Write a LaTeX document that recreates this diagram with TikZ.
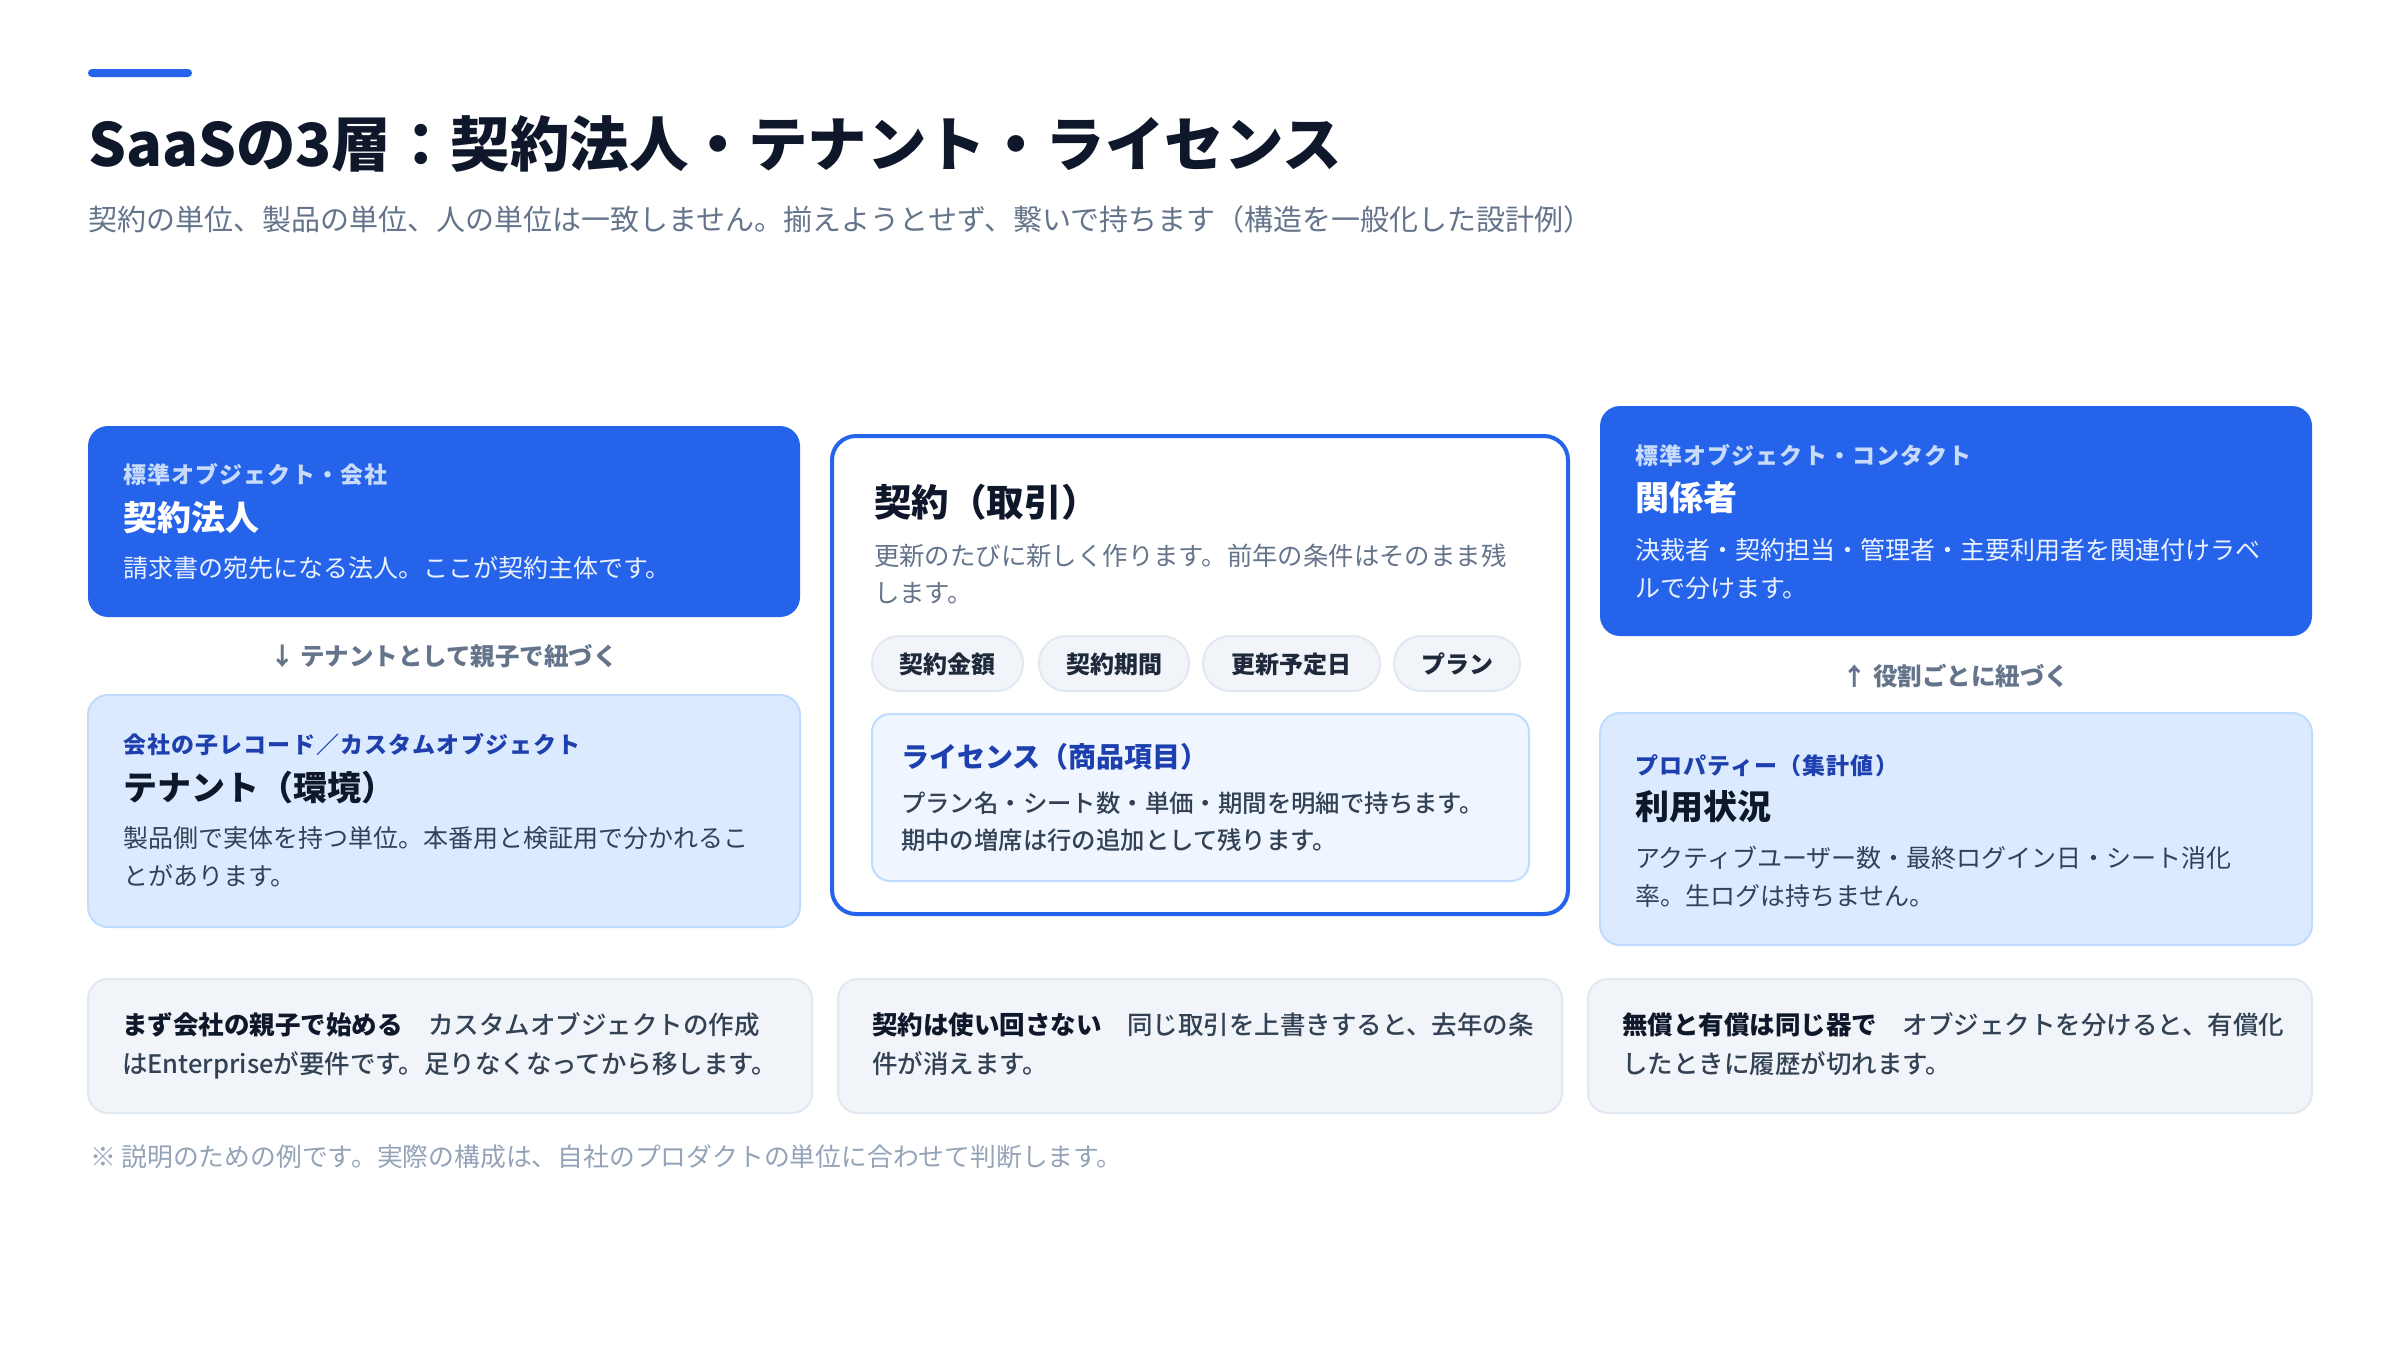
\documentclass[tikz,border=0pt]{standalone}
\usepackage{fontspec}
\setmainfont{Noto Sans CJK JP}
\newfontfamily\medfont{Noto Sans CJK JP Medium}
\definecolor{brand}{HTML}{2563EB}
\definecolor{ink}{HTML}{0F172A}
\definecolor{slate}{HTML}{334155}
\definecolor{muted}{HTML}{64748B}
\definecolor{faint}{HTML}{94A3B8}
\definecolor{lightfill}{HTML}{DBEAFE}
\definecolor{lightline}{HTML}{BFDBFE}
\definecolor{deepblue}{HTML}{1E40AF}
\definecolor{pillfill}{HTML}{F1F5F9}
\definecolor{pillline}{HTML}{E2E8F0}
\definecolor{pilltext}{HTML}{1E293B}
\definecolor{licfill}{HTML}{EFF6FF}
\definecolor{onblueK}{HTML}{C9DBFB}
\definecolor{onblueB}{HTML}{EAF1FF}
\tikzset{
  txt/.style={anchor=base west, inner sep=0pt, outer sep=0pt},
  ctxt/.style={anchor=base, inner sep=0pt, outer sep=0pt},
  boxbase/.style={anchor=north west, inner sep=0pt, outer sep=0pt, rounded corners=20pt},
  bluebox/.style={boxbase, fill=brand, draw=none},
  lightbox/.style={boxbase, fill=lightfill, draw=lightline, line width=2pt},
  mainbox/.style={boxbase, fill=white, draw=brand, line width=4pt, rounded corners=24pt},
  licbox/.style={boxbase, fill=licfill, draw=lightline, line width=2pt, rounded corners=18pt},
  notebox/.style={boxbase, fill=pillfill, draw=pillline, line width=2pt},
  pill/.style={anchor=north west, inner sep=0pt, outer sep=0pt, fill=pillfill, draw=pillline, line width=2pt, rounded corners=27pt, minimum height=55pt},
  kickW/.style={txt, text=onblueK, font=\fontsize{23}{28}\selectfont\bfseries\addfontfeature{LetterSpace=5}},
  kickB/.style={txt, text=deepblue, font=\fontsize{23}{28}\selectfont\bfseries\addfontfeature{LetterSpace=5}},
  headW/.style={txt, text=white, font=\fontsize{34}{40}\selectfont\bfseries},
  headB/.style={txt, text=ink, font=\fontsize{34}{40}\selectfont\bfseries},
  bodyW/.style={txt, text=onblueB, font=\fontsize{25}{30}\selectfont},
  bodyB/.style={txt, text=slate, font=\fontsize{25}{30}\selectfont},
  bodyM/.style={txt, text=muted, font=\fontsize{25.4}{30}\selectfont},
  linklabel/.style={ctxt, text=muted, font=\fontsize{24.5}{28}\selectfont\bfseries},
  pilltxt/.style={text=pilltext, font=\fontsize{24}{28}\selectfont\bfseries},
  notetxt/.style={txt, text=slate, font=\fontsize{25.5}{30}\selectfont\medfont},
}
\newcommand{\leadin}[1]{{\color{ink}\bfseries #1}}
\begin{document}
\begin{tikzpicture}[x=1pt,y=-1pt]
\useasboundingbox (0,0) rectangle (2400,1350);
\fill[white] (0,0) rectangle (2400,1350);

% header
\fill[brand, rounded corners=4pt] (88,69) rectangle (192,77);
\node[txt, text=ink, font=\fontsize{59.5}{70}\selectfont\bfseries] (title) at (88,166) {SaaSの3層：契約法人・テナント・ライセンス};
\node[txt, text=muted, font=\fontsize{29}{34}\selectfont] (subtitle) at (88,230) {契約の単位、製品の単位、人の単位は一致しません。揃えようとせず、繋いで持ちます（構造を一般化した設計例）};

% left column
\node[bluebox, minimum width=712pt, minimum height=191pt] (acct) at (88,426) {};
\node[kickW] (acctK) at (123,483) {標準オブジェクト・会社};
\node[headW] (acctH) at (123,530) {契約法人};
\node[bodyW] (acctB) at (123,577) {請求書の宛先になる法人。ここが契約主体です。};
\node[linklabel] (linkL) at (444,665) {↓ テナントとして親子で紐づく};
\node[lightbox, minimum width=712pt, minimum height=232pt] (tenant) at (88,695) {};
\node[kickB] (tenK) at (123,753) {会社の子レコード／カスタムオブジェクト};
\node[headB] (tenH) at (123,800) {テナント（環境）};
\node[bodyB] (tenB1) at (123,847) {製品側で実体を持つ単位。本番用と検証用で分かれるこ};
\node[bodyB] (tenB2) at (123,885) {とがあります。};

% middle column
\node[mainbox, minimum width=736pt, minimum height=478pt] (deal) at (832,436) {};
\node[headB, font=\fontsize{37.5}{44}\selectfont\bfseries] (dealH) at (874,516) {契約（取引）};
\node[bodyM] (dealB1) at (874,565) {更新のたびに新しく作ります。前年の条件はそのまま残};
\node[bodyM] (dealB2) at (874,602) {します。};
\node[pill, minimum width=151pt] (p1) at (872,636) {};
\node[pill, minimum width=150pt] (p2) at (1039,636) {};
\node[pill, minimum width=177pt] (p3) at (1203,636) {};
\node[pill, minimum width=126pt] (p4) at (1394,636) {};
\node[pilltxt, anchor=base, inner sep=0pt] (p1t) at ([yshift=-10pt]p1.center) {契約金額};
\node[pilltxt, anchor=base, inner sep=0pt] (p2t) at ([yshift=-10pt]p2.center) {契約期間};
\node[pilltxt, anchor=base, inner sep=0pt] (p3t) at ([yshift=-10pt]p3.center) {更新予定日};
\node[pilltxt, anchor=base, inner sep=0pt] (p4t) at ([yshift=-10pt]p4.center) {プラン};
\node[licbox, minimum width=657pt, minimum height=167pt] (lic) at (872,714) {};
\node[txt, text=deepblue, font=\fontsize{28}{32}\selectfont\bfseries] (licH) at (901,767) {ライセンス（商品項目）};
\node[txt, text=slate, font=\fontsize{24.4}{30}\selectfont\medfont] (licB1) at (901,812) {プラン名・シート数・単価・期間を明細で持ちます。};
\node[txt, text=slate, font=\fontsize{24.4}{30}\selectfont\medfont] (licB2) at (901,849) {期中の増席は行の追加として残ります。};

% right column
\node[bluebox, minimum width=712pt, minimum height=230pt] (contact) at (1600,406) {};
\node[kickW] (conK) at (1635,464) {標準オブジェクト・コンタクト};
\node[headW] (conH) at (1635,510) {関係者};
\node[bodyW] (conB1) at (1635,559) {決裁者・契約担当・管理者・主要利用者を関連付けラベ};
\node[bodyW] (conB2) at (1635,597) {ルで分けます。};
\node[linklabel] (linkR) at (1956,685) {↑ 役割ごとに紐づく};
\node[lightbox, minimum width=712pt, minimum height=232pt] (usage) at (1600,713) {};
\node[kickB] (useK) at (1635,774) {プロパティー（集計値）};
\node[headB] (useH) at (1635,819) {利用状況};
\node[bodyB] (useB1) at (1635,867) {アクティブユーザー数・最終ログイン日・シート消化};
\node[bodyB] (useB2) at (1635,905) {率。生ログは持ちません。};

% notes
\node[notebox, minimum width=724pt, minimum height=134pt] (n1) at (88,979) {};
\node[notebox, minimum width=724pt, minimum height=134pt] (n2) at (838,979) {};
\node[notebox, minimum width=724pt, minimum height=134pt] (n3) at (1588,979) {};
\node[notetxt] (n1a) at (122,1034) {\leadin{まず会社の親子で始める}　カスタムオブジェクトの作成};
\node[notetxt] (n1b) at (122,1073) {はEnterpriseが要件です。足りなくなってから移します。};
\node[notetxt] (n2a) at (872,1034) {\leadin{契約は使い回さない}　同じ取引を上書きすると、去年の条};
\node[notetxt] (n2b) at (872,1073) {件が消えます。};
\node[notetxt] (n3a) at (1622,1034) {\leadin{無償と有償は同じ器で}　オブジェクトを分けると、有償化};
\node[notetxt] (n3b) at (1622,1073) {したときに履歴が切れます。};

\node[txt, text=faint, font=\fontsize{25.8}{30}\selectfont] (foot) at (90,1166) {※ 説明のための例です。実際の構成は、自社のプロダクトの単位に合わせて判断します。};
\end{tikzpicture}
\end{document}
